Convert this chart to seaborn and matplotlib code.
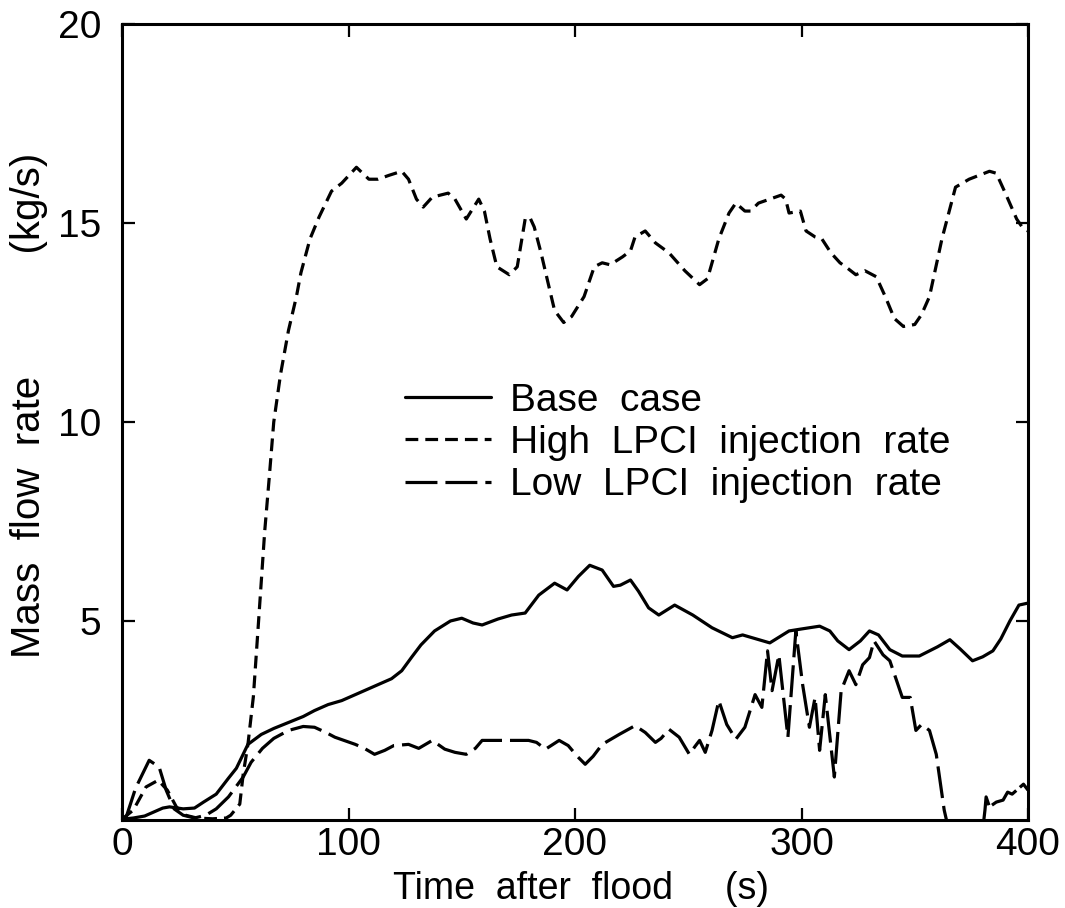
import matplotlib
matplotlib.use("Agg")
import matplotlib.pyplot as plt
import seaborn as sns
import pandas as pd
import numpy as np

# ---- data ----
base_t = [0, 5, 10, 14, 18, 21, 27, 32, 36, 41.6, 47, 50.5, 55.6, 61.5, 67, 73.5, 80, 85, 91, 97,
          103, 109, 115, 119, 123.5, 128, 132, 138, 145, 150, 155, 159, 166, 172, 178, 184, 191,
          196.5, 201.5, 206.5, 212, 217, 220, 224.5, 228, 232.5, 237, 244, 252, 260.5, 269.5, 274,
          286, 294.5, 300, 308, 312.5, 316, 321, 326, 330, 334, 339, 344.5, 352, 360, 365.5, 370,
          375.5, 380, 384.5, 388, 392, 396, 400]
base_v = [0.02, 0.05, 0.1, 0.2, 0.3, 0.33, 0.28, 0.3, 0.45, 0.65, 1.05, 1.3, 1.9, 2.15, 2.3, 2.45,
          2.6, 2.75, 2.9, 3.0, 3.15, 3.3, 3.45, 3.55, 3.75, 4.1, 4.4, 4.75, 5.0, 5.07, 4.95, 4.9,
          5.05, 5.15, 5.2, 5.65, 5.95, 5.78, 6.12, 6.4, 6.28, 5.87, 5.9, 6.03, 5.75, 5.33, 5.15,
          5.4, 5.15, 4.83, 4.58, 4.65, 4.45, 4.75, 4.8, 4.87, 4.75, 4.5, 4.28, 4.5, 4.75, 4.65,
          4.28, 4.12, 4.12, 4.35, 4.53, 4.3, 4.0, 4.1, 4.25, 4.55, 5.0, 5.4, 5.45]

high_t = [0, 5, 10.6, 16, 20, 24, 28, 33, 40, 46, 48, 52, 53.5, 55.6, 58, 60, 63, 65, 67, 70, 73.5,
          77, 79, 83, 87, 92.5, 97, 103.5, 109, 113, 118, 123.5, 126.5, 130, 133, 137, 144, 147,
          152, 157.5, 160, 162.5, 165.5, 171, 174.5, 178, 180, 182, 185, 188.5, 191, 195, 198.5,
          204, 208.5, 212, 215.5, 221, 224.5, 226.5, 231, 235.5, 241.5, 248.5, 255, 258.5, 263.5,
          268, 271, 275, 277.5, 281, 291, 293, 294.5, 299.5, 302, 306, 309, 313, 317, 319.5, 324,
          328, 333, 337, 341, 345, 350, 353, 356.5, 362, 368, 374, 383, 386, 390, 395, 398, 400]
high_v = [0.02, 0.25, 0.83, 1.0, 0.75, 0.33, 0.12, 0.05, 0.03, 0.05, 0.12, 0.4, 1.15, 1.9, 3.1,
          4.75, 7.25, 8.6, 10.0, 11.2, 12.3, 13.15, 13.75, 14.6, 15.15, 15.8, 16.0, 16.4, 16.1,
          16.1, 16.2, 16.3, 16.1, 15.6, 15.4, 15.65, 15.75, 15.6, 15.1, 15.6, 15.3, 14.6, 13.9,
          13.7, 13.9, 15.1, 15.15, 14.9, 14.25, 13.4, 12.8, 12.5, 12.65, 13.15, 13.9, 14.0, 13.95,
          14.15, 14.3, 14.65, 14.8, 14.5, 14.25, 13.8, 13.45, 13.6, 14.6, 15.25, 15.5, 15.3, 15.3,
          15.5, 15.7, 15.6, 15.25, 15.3, 14.8, 14.65, 14.6, 14.25, 14.0, 13.9, 13.7, 13.8, 13.65,
          13.15, 12.6, 12.4, 12.45, 12.7, 13.15, 14.6, 15.9, 16.1, 16.3, 16.25, 15.75, 15.1,
          14.85, 14.8]

low_t = [0, 2, 6, 12, 16.4, 19.5, 23, 27, 32, 37, 41.6, 47, 53.5, 57, 62, 67, 73.5, 80, 85, 90,
         94, 103, 107, 111.5, 116, 120, 126.5, 131, 137, 142.5, 147, 152, 156, 159, 168, 179.5,
         183, 187, 193, 197, 201, 204.5, 208, 212, 219.5, 226.5, 231, 235.5, 238, 241.5, 246,
         250.5, 253, 255, 257.5, 260.5, 263.5, 267, 271, 275, 279.5, 282.5, 285, 287, 290, 294,
         297.5, 300.5, 303.5, 306, 308, 310.5, 314.5, 317.5, 321, 324, 327, 330, 332, 336, 339,
         342, 344.5, 348, 350.5, 353, 356.5, 359.5, 363, 364]
low_v = [0.02, 0.1, 0.8, 1.5, 1.33, 0.75, 0.28, 0.12, 0.05, 0.12, 0.28, 0.58, 1.08, 1.45, 1.8,
         2.05, 2.25, 2.35, 2.33, 2.2, 2.08, 1.9, 1.8, 1.65, 1.75, 1.87, 1.9, 1.8, 2.0, 1.78, 1.7,
         1.65, 1.8, 2.0, 2.0, 2.0, 1.95, 1.78, 2.0, 1.87, 1.6, 1.4, 1.6, 1.9, 2.15, 2.37, 2.2,
         1.95, 2.05, 2.28, 2.08, 1.65, 1.85, 2.0, 1.7, 2.25, 3.0, 2.4, 2.03, 2.33, 3.15, 2.83,
         4.25, 3.25, 4.15, 2.08, 4.75, 3.4, 2.33, 3.08, 1.75, 3.15, 1.08, 3.25, 3.75, 3.4, 3.9,
         4.08, 4.5, 4.15, 4.0, 3.5, 3.08, 3.08, 2.25, 2.4, 2.25, 1.65, 0.25, 0.0]

low_tail_t = [380.5, 381, 381.5, 383, 386, 389, 391, 393, 396, 398, 400]
low_tail_v = [0.0, 0.25, 0.58, 0.33, 0.45, 0.5, 0.7, 0.65, 0.8, 0.9, 0.75]

labels = ["Base  case", "High  LPCI  injection  rate", "Low  LPCI  injection  rate"]
x_ticks = [0, 100, 200, 300, 400]
y_ticks = [5, 10, 15, 20]

# ---- style ----
sns.set_style("ticks")
fam = ["Liberation Sans", "DejaVu Sans"]
plt.rcParams["font.family"] = fam
for k in ["text.color", "axes.labelcolor", "xtick.color", "ytick.color", "axes.edgecolor"]:
    plt.rcParams[k] = "black"

fig = plt.figure(figsize=(10.65, 9.08), dpi=100)
ax = fig.add_axes([122 / 1065, 1 - 820 / 908, 906 / 1065, 796 / 908])

lw = 2.3
sns.lineplot(x=base_t, y=base_v, ax=ax, color="black", lw=lw, sort=False,
             estimator=None, label=labels[0])
sns.lineplot(x=high_t, y=high_v, ax=ax, color="black", lw=lw, sort=False,
             estimator=None, label=labels[1])
sns.lineplot(x=low_t, y=low_v, ax=ax, color="black", lw=lw, sort=False,
             estimator=None, label=labels[2])
sns.lineplot(x=low_tail_t, y=low_tail_v, ax=ax, color="black", lw=lw, sort=False,
             estimator=None)

lines = ax.get_lines()
lines[1].set_dashes([4.0, 2.2])
lines[2].set_dashes([10.0, 2.5])
lines[3].set_dashes([10.0, 1.5])

ax.set_xlim(0, 400)
ax.set_ylim(0, 20)
ax.set_xticks(x_ticks)
ax.set_yticks(y_ticks)
ax.set_xticklabels([str(v) for v in x_ticks])
ax.set_yticklabels([str(v) for v in y_ticks])

for s in ax.spines.values():
    s.set_linewidth(2.2)
    s.set_color("black")
    s.set_visible(True)

ax.tick_params(direction="in", length=9, width=1.6, top=True, right=True,
               labelsize=28, colors="black")
ax.tick_params(axis="x", pad=5)
ax.tick_params(axis="y", pad=15)

ax.set_xlabel("Time  after  flood     (s)", fontsize=27)
ax.set_ylabel("Mass  flow  rate           (kg/s)", fontsize=29)
ax.xaxis.set_label_coords(0.507, (820 - 871) / 796)
ax.yaxis.set_label_coords((48 - 122) / 906, (820 - 405) / 796)

leg = ax.legend(loc="center left", bbox_to_anchor=((405 - 122) / 906, (820 - 443) / 796),
                frameon=False, fontsize=28, handlelength=2.2, handletextpad=0.5,
                labelspacing=0.16, borderpad=0, borderaxespad=0)
for h in leg.get_lines():
    h.set_linewidth(2.3)

fig.savefig("out.png", dpi=100, facecolor="white")
